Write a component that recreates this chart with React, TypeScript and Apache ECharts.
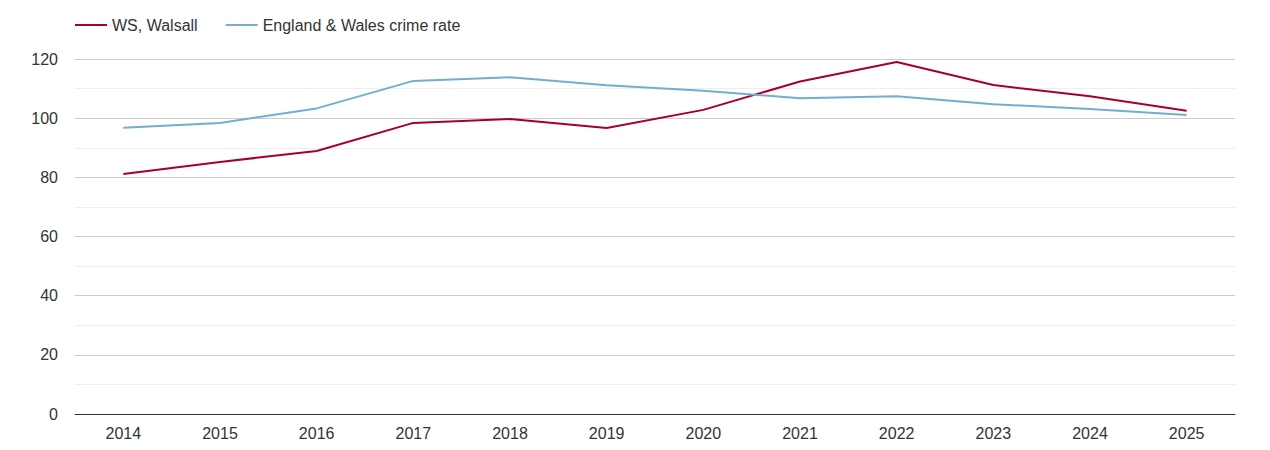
import React, { useEffect, useRef } from 'react';
import * as echarts from 'echarts';

const years = ['2014', '2015', '2016', '2017', '2018', '2019', '2020', '2021', '2022', '2023', '2024', '2025'];
const walsall = [81.1, 85.2, 88.9, 98.4, 99.7, 96.7, 102.8, 112.4, 119.0, 111.2, 107.4, 102.5];
const englandWales = [96.8, 98.4, 103.3, 112.6, 113.8, 111.1, 109.3, 106.7, 107.4, 104.7, 103.1, 101.1];

export default function App() {
  const chartRef = useRef<HTMLDivElement>(null);

  useEffect(() => {
    document.body.style.margin = '0';
    if (!chartRef.current) return;
    const chart = echarts.init(chartRef.current, undefined, { renderer: 'svg' });

    chart.setOption({
      animation: false,
      textStyle: { fontFamily: 'Arial, "Liberation Sans", sans-serif' },
      legend: {
        left: 70,
        top: 12,
        itemWidth: 32,
        itemHeight: 14,
        itemGap: 28,
        icon: 'path://M0,6 L32,6 L32,8 L0,8 Z',
        textStyle: { fontSize: 16, color: '#333' },
        data: ['WS, Walsall', 'England & Wales crime rate']
      },
      grid: { left: 75, right: 35, top: 59, bottom: 36 },
      xAxis: {
        type: 'category',
        data: years,
        boundaryGap: true,
        axisLine: { lineStyle: { color: '#333' } },
        axisTick: { show: false },
        axisLabel: { fontSize: 16, color: '#333', margin: 11 }
      },
      yAxis: {
        type: 'value',
        min: 0,
        max: 120,
        interval: 20,
        axisLine: { show: false },
        axisTick: { show: false },
        axisLabel: { fontSize: 16, color: '#333', margin: 17 },
        splitLine: { lineStyle: { color: '#ccc' } },
        minorTick: { show: false, splitNumber: 2 },
        minorSplitLine: { show: true, lineStyle: { color: '#eee' } }
      },
      series: [
        {
          name: 'WS, Walsall',
          type: 'line',
          data: walsall,
          symbol: 'none',
          lineStyle: { color: '#a50026', width: 2 },
          itemStyle: { color: '#a50026' }
        },
        {
          name: 'England & Wales crime rate',
          type: 'line',
          data: englandWales,
          symbol: 'none',
          lineStyle: { color: '#74add1', width: 2 },
          itemStyle: { color: '#74add1' }
        }
      ]
    });

    return () => chart.dispose();
  }, []);

  return <div ref={chartRef} style={{ width: 1270, height: 450 }} />;
}
